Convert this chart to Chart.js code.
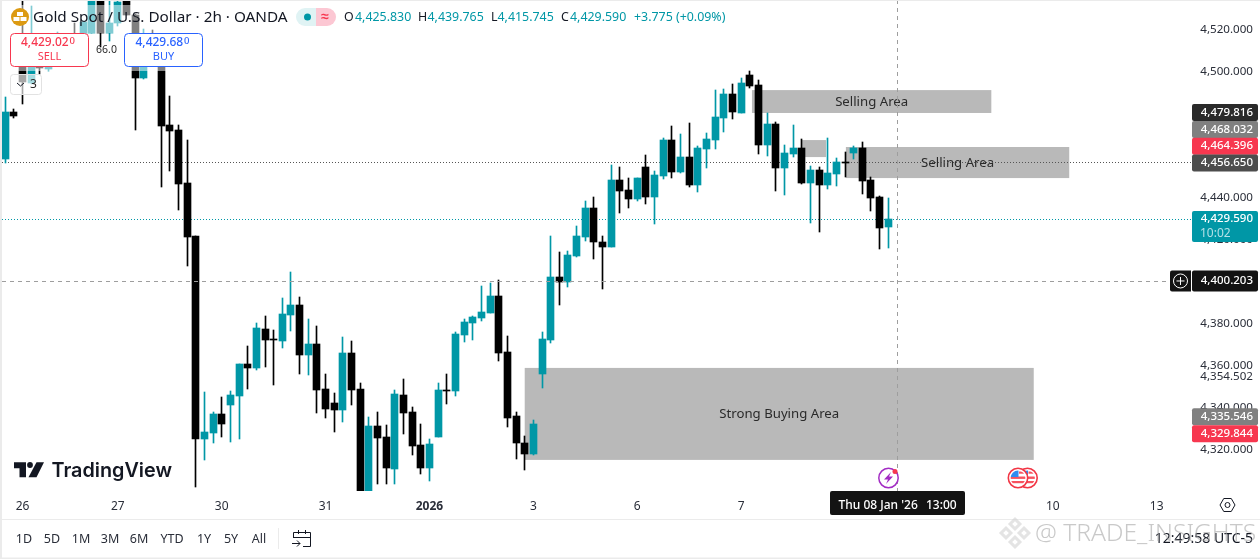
<!DOCTYPE html>
<html>
<head>
<meta charset="utf-8">
<title>Gold Spot / U.S. Dollar</title>
<script src="https://cdn.jsdelivr.net/npm/chart.js@4/dist/chart.umd.min.js"></script>
<style>
html, body { margin: 0; padding: 0; background: #fff; overflow: hidden; }
canvas { display: block; }
</style>
</head>
<body>
<canvas id="goldChart" width="1260" height="559"></canvas>
<script>
// 2h candles (the first ones are partly hidden by the header)
const opens = [4458.4,4480.7,4504.5,4494.5,4510.2,4501.1,4507.8,4514.0,4516.4,4518.3,4518.3,4533.5,4518.3,4523.2,4533.5,4526.9,4496.9,4514.0,4510.2,4474.5,4472.1,4446.9,4421.6,4325.0,4327.8,4336.9,4341.1,4345.4,4360.7,4358.8,4377.3,4372.6,4371.6,4384.0,4388.8,4365.0,4370.2,4348.8,4342.1,4338.8,4365.9,4348.8,4297.8,4331.1,4325.9,4310.7,4345.9,4337.8,4322.1,4311.1,4325.9,4348.3,4347.8,4374.5,4380.2,4382.6,4385.0,4393.0,4366.4,4335.9,4323.0,4317.8,4355.9,4372.1,4402.1,4399.7,4412.1,4421.1,4435.0,4418.8,4416.4,4448.3,4443.5,4439.2,4454.5,4440.2,4450.2,4467.3,4452.1,4459.2,4445.9,4463.0,4467.3,4477.8,4489.2,4480.2,4498.3,4493.5,4465.0,4475.0,4454.0,4460.7,4463.5,4446.9,4453.0,4445.9,4451.1,4456.9,4461.1,4463.5,4448.3,4440.2,4425.83];
const highs = [4487.8,4482.1,4535.0,4531.1,4517.3,4515.0,4518.9,4517.8,4523.0,4524.0,4534.0,4535.0,4534.0,4535.0,4535.0,4527.5,4520.2,4519.7,4515.0,4488.3,4474.5,4467.3,4421.6,4347.3,4337.8,4345.0,4347.8,4360.7,4369.2,4380.2,4383.5,4376.9,4392.1,4404.5,4392.6,4382.1,4378.8,4355.9,4346.9,4373.5,4371.6,4351.6,4335.4,4337.8,4331.6,4348.3,4353.5,4340.2,4332.1,4325.0,4351.6,4355.9,4375.9,4382.1,4383.5,4397.8,4399.2,4400.7,4374.0,4337.8,4326.4,4334.0,4375.9,4421.6,4414.0,4414.5,4426.4,4438.3,4440.2,4421.6,4455.4,4454.5,4449.2,4449.2,4460.2,4452.6,4468.3,4474.0,4470.2,4475.4,4464.5,4470.7,4491.1,4491.6,4494.0,4496.9,4500.2,4495.9,4480.2,4475.9,4465.0,4474.5,4467.8,4455.0,4454.5,4468.3,4458.8,4461.6,4464.5,4466.4,4449.7,4440.7,4439.765];
const lows = [4456.4,4477.8,4484.5,4494.0,4498.8,4500.4,4505.4,4510.2,4510.2,4518.3,4518.3,4511.8,4514.6,4521.6,4526.9,4472.1,4496.4,4505.4,4445.1,4452.7,4434.1,4407.5,4302.2,4315.0,4323.0,4325.9,4323.5,4325.0,4348.8,4357.8,4359.2,4350.7,4368.3,4376.4,4355.9,4355.4,4337.3,4335.0,4328.3,4333.0,4341.1,4297.8,4297.8,4303.5,4303.5,4303.5,4327.3,4317.3,4308.3,4305.0,4325.9,4341.6,4345.4,4371.1,4372.1,4381.1,4385.0,4362.1,4330.7,4315.4,4310.2,4317.3,4349.2,4370.7,4388.8,4397.3,4411.6,4419.2,4410.7,4396.4,4416.4,4432.6,4435.0,4438.3,4436.9,4427.3,4448.8,4449.2,4451.6,4445.0,4442.6,4454.0,4463.0,4471.1,4477.3,4480.2,4492.1,4460.7,4459.7,4443.0,4441.1,4459.2,4446.4,4427.8,4423.5,4444.0,4445.4,4449.7,4458.3,4441.6,4433.5,4415.4,4415.745];
const closes = [4480.7,4478.8,4495.0,4512.6,4501.4,4510.2,4514.0,4517.3,4515.0,4523.5,4533.5,4518.3,4523.2,4533.0,4526.9,4496.9,4507.8,4507.8,4474.1,4471.6,4446.5,4421.3,4325.1,4328.3,4336.9,4332.1,4345.9,4360.7,4358.8,4377.8,4372.1,4372.1,4384.5,4388.8,4365.0,4370.2,4348.3,4339.2,4338.8,4365.9,4348.3,4297.8,4331.1,4325.4,4311.1,4346.4,4337.3,4321.6,4311.1,4322.6,4348.3,4347.8,4375.0,4380.7,4383.0,4385.4,4393.0,4365.9,4335.0,4323.0,4317.8,4332.1,4372.6,4402.1,4399.7,4412.6,4421.6,4435.0,4418.8,4416.4,4448.3,4443.0,4439.2,4449.2,4440.2,4450.7,4467.3,4452.1,4459.2,4445.9,4463.5,4467.8,4478.3,4489.2,4480.7,4494.5,4493.0,4465.0,4475.0,4454.0,4461.1,4463.5,4446.9,4453.0,4445.9,4451.6,4456.9,4456.4,4463.5,4447.8,4439.7,4425.4,4429.59];

// axis ticks
const dayTicks = [2, 13, 25, 37, 49, 61, 73, 85, 121, 133];
const dayLabels = ['26', '27', '30', '31', '2026', '3', '6', '7', '10', '13'];
const priceTicks = [4520, 4500, 4440, 4420, 4380, 4360, 4354.502, 4340, 4320];

// drawn areas: first bar, last bar, top price, bottom price, label
const zoneStart = [86.25, 97.1, 92.0, 60.0];
const zoneEnd = [113.9, 122.9, 94.8, 118.8];
const zoneTop = [4491.1, 4464.0, 4467.3, 4358.8];
const zoneBottom = [4480.2, 4449.2, 4459.2, 4315.0];
const zoneLabels = ['Selling Area', 'Selling Area', '', 'Strong Buying Area'];

// price tags on the right axis
const tagValues = [4479.816, 4468.032, 4464.396, 4456.650, 4429.590, 4400.203, 4335.546, 4329.844];
const lastPrice = 4429.590;
const highLinePrice = 4456.650;
const crossPrice = 4400.203;
const crossBar = 103.05;

const TEAL = '#0097a6';
const RED = '#f7374f';
const BLUE = '#2962ff';
const FONT = '"Noto Sans", sans-serif';

const barIndex = opens.map(function(_, i) { return i; });
const barColors = barIndex.map(function(i) { return closes[i] >= opens[i] ? TEAL : '#000000'; });

function priceText(v) {
    return v.toLocaleString('en-US', { minimumFractionDigits: 3, maximumFractionDigits: 3 });
}

function roundRect(ctx, x, y, w, h, r) {
    ctx.beginPath();
    ctx.roundRect(x, y, w, h, r);
}

function text(ctx, str, x, y, font, color, align) {
    ctx.font = font;
    ctx.fillStyle = color;
    ctx.textAlign = align || 'left';
    ctx.textBaseline = 'middle';
    ctx.fillText(str, x, y);
}

// snap candles to whole pixels so wicks stay crisp
const snapPlugin = {
    id: 'snap',
    afterDatasetsUpdate: function(chart) {
        chart.data.datasets.forEach(function(ds, d) {
            chart.getDatasetMeta(d).data.forEach(function(bar) {
                bar.x = Math.floor(bar.x) + 0.5;
                bar.y = Math.round(bar.y);
                bar.base = Math.round(bar.base);
            });
        });
    }
};

const backdropPlugin = {
    id: 'backdrop',
    beforeDraw: function(chart) {
        const ctx = chart.ctx;
        ctx.save();
        ctx.fillStyle = '#ffffff';
        ctx.fillRect(0, 0, 1260, 559);
        ctx.restore();
    },
    beforeDatasetsDraw: function(chart) {
        const ctx = chart.ctx;
        const x = chart.scales.x;
        const y = chart.scales.y;
        ctx.save();
        zoneStart.forEach(function(s, i) {
            const left = x.getPixelForValue(s);
            const right = x.getPixelForValue(zoneEnd[i]);
            const top = y.getPixelForValue(zoneTop[i]);
            const bottom = y.getPixelForValue(zoneBottom[i]);
            ctx.fillStyle = '#b9b9b9';
            ctx.fillRect(left, top, right - left, bottom - top);
            if (zoneLabels[i]) {
                text(ctx, zoneLabels[i], (left + right) / 2, (top + bottom) / 2 + 0.5, '13.2px ' + FONT, '#2a2a2a', 'center');
            }
        });
        // last price and session lines
        ctx.lineWidth = 1;
        ctx.setLineDash([1, 2]);
        ctx.strokeStyle = '#555555';
        let py = Math.round(y.getPixelForValue(highLinePrice)) + 0.5;
        ctx.beginPath(); ctx.moveTo(2, py); ctx.lineTo(1191, py); ctx.stroke();
        ctx.strokeStyle = TEAL;
        py = Math.round(y.getPixelForValue(lastPrice)) + 0.5;
        ctx.beginPath(); ctx.moveTo(2, py); ctx.lineTo(1191, py); ctx.stroke();
        ctx.restore();
    },
    afterDatasetsDraw: function(chart) {
        const ctx = chart.ctx;
        const x = chart.scales.x;
        const y = chart.scales.y;
        ctx.save();
        ctx.strokeStyle = '#9e9e9e';
        ctx.lineWidth = 1;
        ctx.setLineDash([4, 4]);
        const cy = Math.round(y.getPixelForValue(crossPrice)) + 0.5;
        ctx.beginPath(); ctx.moveTo(2, cy); ctx.lineTo(1170, cy); ctx.stroke();
        const cx = Math.round(x.getPixelForValue(crossBar)) + 0.5;
        ctx.beginPath(); ctx.moveTo(cx, 0); ctx.lineTo(cx, 491); ctx.stroke();
        ctx.restore();
    }
};

function drawTags(chart) {
    const ctx = chart.ctx;
    const y = chart.scales.y;
    const tagFont = '500 11.5px ' + FONT;
    const tagColors = ['#2a2a2a', '#808080', RED, '#4d4d4d', TEAL, '#131313', '#808080', RED];
    const tagShift = [-1.4, -9, 0, 0.6, 0, 0, 0, 5];
    tagValues.forEach(function(v, i) {
        const cy = y.getPixelForValue(v) + tagShift[i];
        ctx.fillStyle = tagColors[i];
        if (v === lastPrice) {
            roundRect(ctx, 1192, cy - 8.3, 66, 31, 2);
            ctx.fill();
            text(ctx, priceText(v), 1253, cy - 0.5, tagFont, '#ffffff', 'right');
            text(ctx, '10:02', 1200, cy + 14, '12px ' + FONT, '#b2e0e6');
        } else if (v === crossPrice) {
            roundRect(ctx, 1192, cy - 10.5, 66, 21, 2);
            ctx.fill();
            roundRect(ctx, 1170, cy - 10.5, 21, 21, [2, 0, 0, 2]);
            ctx.fill();
            text(ctx, priceText(v), 1253, cy, tagFont, '#ffffff', 'right');
            ctx.strokeStyle = '#ffffff';
            ctx.lineWidth = 1;
            ctx.setLineDash([]);
            ctx.beginPath(); ctx.arc(1180.5, cy, 7, 0, Math.PI * 2); ctx.stroke();
            ctx.beginPath();
            ctx.moveTo(1176.5, cy); ctx.lineTo(1184.5, cy);
            ctx.moveTo(1180.5, cy - 4); ctx.lineTo(1180.5, cy + 4);
            ctx.stroke();
        } else {
            roundRect(ctx, 1192, cy - 8.5, 66, 17, 2);
            ctx.fill();
            text(ctx, priceText(v), 1253, cy, tagFont, '#ffffff', 'right');
        }
    });
}

function drawHeader(ctx) {
    // translucent strips over the first candles
    ctx.fillStyle = 'rgba(255,255,255,0.5)';
    ctx.fillRect(5, 5, 288, 28);
    ctx.fillRect(10, 67, 193, 4);

    // gold icon
    ctx.fillStyle = '#dc9a12';
    ctx.beginPath(); ctx.arc(20, 17, 9, 0, Math.PI * 2); ctx.fill();
    ctx.fillStyle = '#ffffff';
    ctx.fillRect(17, 12, 6, 4);
    ctx.fillRect(13.5, 17, 6, 4);
    ctx.fillRect(20.5, 17, 6, 4);

    text(ctx, 'Gold Spot / U.S. Dollar · 2h · OANDA', 33, 17.5, '15.3px ' + FONT, '#131722');

    // status pill
    ctx.fillStyle = '#e0f3f4';
    roundRect(ctx, 296, 8, 20, 18, [9, 0, 0, 9]); ctx.fill();
    ctx.fillStyle = '#fcc7d3';
    roundRect(ctx, 316, 8, 20, 18, [0, 9, 9, 0]); ctx.fill();
    ctx.fillStyle = TEAL;
    ctx.beginPath(); ctx.arc(307.5, 17, 3.5, 0, Math.PI * 2); ctx.fill();
    text(ctx, '≈', 325, 17, '600 14px ' + FONT, RED, 'center');

    // OHLC
    const ohlcFont = '12.4px ' + FONT;
    text(ctx, 'O', 344, 17.5, ohlcFont, '#131722');
    text(ctx, priceText(opens[opens.length - 1]), 355, 17.5, ohlcFont, TEAL);
    text(ctx, 'H', 418, 17.5, ohlcFont, '#131722');
    text(ctx, priceText(highs[highs.length - 1]), 427.5, 17.5, ohlcFont, TEAL);
    text(ctx, 'L', 491, 17.5, ohlcFont, '#131722');
    text(ctx, priceText(lows[lows.length - 1]), 497.5, 17.5, ohlcFont, TEAL);
    text(ctx, 'C', 561, 17.5, ohlcFont, '#131722');
    text(ctx, priceText(closes[closes.length - 1]), 570, 17.5, ohlcFont, TEAL);
    text(ctx, '+3.775 (+0.09%)', 634, 17.5, ohlcFont, TEAL);

    // sell and buy buttons
    ctx.lineWidth = 1;
    ctx.setLineDash([]);
    ctx.fillStyle = '#ffffff';
    ctx.strokeStyle = RED;
    roundRect(ctx, 10.5, 33.5, 78, 33, 4); ctx.fill(); ctx.stroke();
    ctx.fillStyle = '#ffffff';
    ctx.strokeStyle = BLUE;
    roundRect(ctx, 124.5, 33.5, 78, 33, 4); ctx.fill(); ctx.stroke();
    text(ctx, '4,429.02', 21, 43, '500 12px ' + FONT, RED);
    text(ctx, '0', 69.5, 41.5, '500 9.5px ' + FONT, RED);
    text(ctx, 'SELL', 49.5, 57, '11px ' + FONT, RED, 'center');
    text(ctx, '4,429.68', 135.5, 43, '500 12px ' + FONT, BLUE);
    text(ctx, '0', 184, 41.5, '500 9.5px ' + FONT, BLUE);
    text(ctx, 'BUY', 163.5, 57, '11px ' + FONT, BLUE, 'center');
    text(ctx, '66.0', 106.5, 50, '10.5px ' + FONT, '#2a2a2a', 'center');

    // collapsed indicators
    ctx.fillStyle = 'rgba(255,255,255,0.65)';
    ctx.strokeStyle = '#e2e2e2';
    roundRect(ctx, 10.5, 74.5, 31, 20, 3); ctx.fill(); ctx.stroke();
    ctx.strokeStyle = '#131722';
    ctx.beginPath(); ctx.moveTo(17, 83); ctx.lineTo(20.5, 86); ctx.lineTo(24, 83); ctx.stroke();
    text(ctx, '3', 33.5, 85, '12px ' + FONT, '#2a2a2a', 'center');
}

function drawLogo(ctx) {
    ctx.fillStyle = '#131722';
    ctx.beginPath();
    ctx.moveTo(14, 462.3); ctx.lineTo(26, 462.3); ctx.lineTo(26, 477.3); ctx.lineTo(19.5, 477.3);
    ctx.lineTo(19.5, 468.3); ctx.lineTo(14, 468.3);
    ctx.closePath(); ctx.fill();
    ctx.beginPath(); ctx.arc(30, 465, 2.9, 0, Math.PI * 2); ctx.fill();
    ctx.beginPath();
    ctx.moveTo(36.5, 462.3); ctx.lineTo(44, 462.3); ctx.lineTo(36.5, 477.3); ctx.lineTo(28.5, 477.3);
    ctx.closePath(); ctx.fill();
    text(ctx, 'TradingView', 51.5, 471, '600 19.8px Inter, ' + FONT, '#131722');
}

function drawEvents(ctx) {
    // lightning event
    ctx.lineWidth = 1.5;
    ctx.setLineDash([]);
    ctx.strokeStyle = '#a32cc4';
    ctx.beginPath(); ctx.arc(888.5, 478, 9.7, 0, Math.PI * 2); ctx.stroke();
    ctx.fillStyle = '#a32cc4';
    ctx.beginPath();
    ctx.moveTo(891, 472); ctx.lineTo(884, 479.5); ctx.lineTo(888, 479.5); ctx.lineTo(886, 484);
    ctx.lineTo(893, 476.5); ctx.lineTo(889, 476.5);
    ctx.closePath(); ctx.fill();
    ctx.fillStyle = RED;
    ctx.beginPath(); ctx.arc(895, 471.5, 2.5, 0, Math.PI * 2); ctx.fill();

    // two US calendar events
    [1027.5, 1018].forEach(function(cx) {
        ctx.fillStyle = '#ffffff';
        ctx.strokeStyle = '#f23645';
        ctx.lineWidth = 1.6;
        ctx.beginPath(); ctx.arc(cx, 478, 9.7, 0, Math.PI * 2); ctx.fill(); ctx.stroke();
        ctx.save();
        ctx.beginPath(); ctx.arc(cx, 478, 7.4, 0, Math.PI * 2); ctx.clip();
        ctx.fillStyle = '#f7525f';
        ctx.fillRect(cx - 8, 476.5, 16, 2.4);
        ctx.fillRect(cx - 8, 481, 16, 2.2);
        ctx.fillRect(cx + 1, 471.5, 8, 2.2);
        ctx.fillStyle = '#2f8cf0';
        ctx.fillRect(cx - 8, 470, 8.5, 7);
        ctx.restore();
    });
}

function drawFooter(ctx) {
    ctx.fillStyle = '#ebebeb';
    ctx.fillRect(0, 0, 2, 559);
    ctx.fillRect(0, 0, 1260, 1);
    ctx.fillRect(2, 519, 1258, 1);
    ctx.fillRect(0, 557.5, 1260, 1.5);
    ctx.fillRect(278, 528, 1, 21);

    // crosshair time label
    ctx.fillStyle = '#131313';
    roundRect(ctx, 830, 491, 135, 24, 2); ctx.fill();
    text(ctx, "Thu 08 Jan '26", 838.5, 505.5, '500 12px ' + FONT, '#ffffff');
    text(ctx, '13:00', 926, 505.5, '500 12px ' + FONT, '#ffffff');

    // settings
    ctx.strokeStyle = '#131722';
    ctx.lineWidth = 1;
    ctx.beginPath();
    for (let k = 0; k < 6; k++) {
        const a = k * Math.PI / 3;
        const hx = 1227.5 + 7.5 * Math.cos(a);
        const hy = 505 + 7.5 * Math.sin(a);
        if (k === 0) { ctx.moveTo(hx, hy); } else { ctx.lineTo(hx, hy); }
    }
    ctx.closePath(); ctx.stroke();
    ctx.beginPath(); ctx.arc(1227.5, 505, 2.5, 0, Math.PI * 2); ctx.stroke();

    // range buttons
    const ranges = ['1D', '5D', '1M', '3M', '6M', 'YTD', '1Y', '5Y', 'All'];
    const rangeX = [24, 52, 81, 110, 139, 172, 204, 231, 259];
    ranges.forEach(function(r, i) {
        text(ctx, r, rangeX[i], 539.5, '12.5px ' + FONT, '#2a2e39', 'center');
    });

    // go to date icon
    ctx.strokeStyle = '#131722';
    ctx.beginPath();
    ctx.moveTo(293.5, 538); ctx.lineTo(293.5, 532.5); ctx.lineTo(310.5, 532.5); ctx.lineTo(310.5, 546.5); ctx.lineTo(303, 546.5);
    ctx.moveTo(293.5, 537.5); ctx.lineTo(310.5, 537.5);
    ctx.moveTo(298.5, 530); ctx.lineTo(298.5, 534);
    ctx.moveTo(305.5, 530); ctx.lineTo(305.5, 534);
    ctx.moveTo(292, 543.5); ctx.lineTo(300, 543.5);
    ctx.moveTo(297, 540.5); ctx.lineTo(300, 543.5); ctx.lineTo(297, 546.5);
    ctx.stroke();

    text(ctx, '12:49:58 UTC-5', 1253, 539, '14px ' + FONT, '#131722', 'right');

    // watermark over the clock
    ctx.strokeStyle = 'rgba(205,205,205,0.55)';
    ctx.lineWidth = 3;
    [[1015, 524], [1006, 533], [1024, 533], [1015, 542]].forEach(function(p) {
        ctx.save();
        ctx.translate(p[0], p[1]);
        ctx.rotate(Math.PI / 4);
        ctx.strokeRect(-3.5, -3.5, 7, 7);
        ctx.restore();
    });
    text(ctx, '@ TRADE_INSIGHTS', 1035, 534, '300 24.6px ' + FONT, 'rgba(165,165,165,0.6)');
}

const overlayPlugin = {
    id: 'overlay',
    afterDraw: function(chart) {
        const ctx = chart.ctx;
        ctx.save();
        drawTags(chart);
        drawHeader(ctx);
        drawLogo(ctx);
        drawEvents(ctx);
        drawFooter(ctx);
        ctx.restore();
    }
};

new Chart(document.getElementById('goldChart'), {
    type: 'bar',
    data: {
        datasets: [{
            label: 'Wick',
            data: barIndex.map(function(i) { return { x: i, y: [lows[i], highs[i]] }; }),
            backgroundColor: barColors,
            barThickness: 1,
            grouped: false,
            order: 2
        }, {
            label: 'Body',
            data: barIndex.map(function(i) { return { x: i, y: [opens[i], closes[i]] }; }),
            backgroundColor: barColors,
            barThickness: 7,
            minBarLength: 1,
            grouped: false,
            order: 1
        }]
    },
    options: {
        responsive: false,
        animation: false,
        layout: { padding: { left: 0, top: 0, right: 7, bottom: 0 } },
        plugins: { legend: { display: false }, tooltip: { enabled: false } },
        scales: {
            x: {
                type: 'linear',
                min: -0.612,
                max: 136.85,
                offset: false,
                grid: { display: false },
                border: { display: false },
                afterBuildTicks: function(scale) {
                    scale.ticks = dayTicks.map(function(v) { return { value: v }; });
                },
                afterFit: function(scale) {
                    scale.height = 68;
                    scale.paddingLeft = 0;
                    scale.paddingRight = 0;
                },
                ticks: {
                    autoSkip: false,
                    maxRotation: 0,
                    padding: 0,
                    color: '#2a2e39',
                    font: function(ctx) {
                        return { family: FONT, size: 12, weight: ctx.tick && ctx.tick.value === 49 ? '700' : '400' };
                    },
                    callback: function(value) {
                        return dayLabels[dayTicks.indexOf(value)];
                    }
                }
            },
            y: {
                position: 'right',
                min: 4300.19,
                max: 4534.0,
                grid: { display: false },
                border: { display: false },
                afterBuildTicks: function(scale) {
                    scale.ticks = priceTicks.map(function(v) { return { value: v }; });
                },
                afterFit: function(scale) {
                    scale.width = 63;
                    scale.paddingTop = 0;
                    scale.paddingBottom = 0;
                },
                ticks: {
                    autoSkip: false,
                    crossAlign: 'far',
                    color: '#2a2e39',
                    font: { family: FONT, size: 11.6 },
                    callback: function(value) {
                        return priceText(value);
                    }
                }
            }
        }
    },
    plugins: [snapPlugin, backdropPlugin, overlayPlugin]
});
</script>
</body>
</html>
